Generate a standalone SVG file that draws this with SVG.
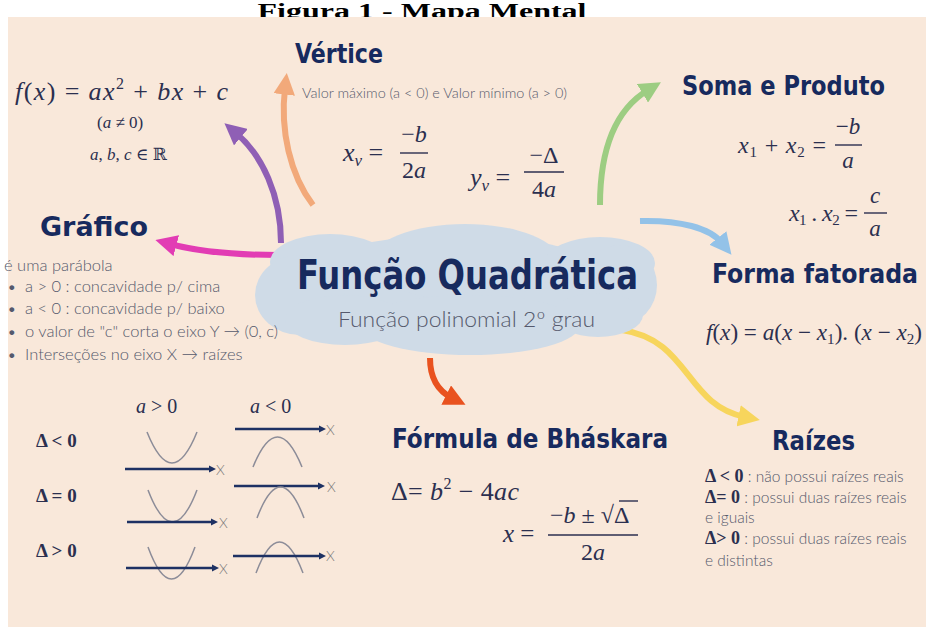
<svg xmlns="http://www.w3.org/2000/svg" width="926" height="627" viewBox="0 0 926 627">
<style>
.h{font-family:"DejaVu Sans Condensed","DejaVu Sans","Liberation Sans",sans-serif;font-weight:bold;fill:#172a5e}
.t{font-family:"Lato","Open Sans","Liberation Sans",sans-serif;font-weight:300;fill:#55596c}
.m{font-family:"Liberation Serif","DejaVu Serif",serif;font-style:italic;fill:#2b2f4f}
.r{font-style:normal}
.mb{font-family:"Liberation Serif","DejaVu Serif",serif;font-weight:bold;fill:#2b2f4f}
.bar{stroke:#2b2f4f;stroke-width:1.4}
.arr{fill:none;stroke-width:6;stroke-linecap:butt}
.axis{fill:none;stroke:#1e3163;stroke-width:2.5}
.par{fill:none;stroke:#8c8c98;stroke-width:1.5}
.xl{font-family:"Lato","Liberation Sans",sans-serif;font-weight:300;font-size:14px;fill:#777}
</style>
<defs>
<marker id="mPu" viewBox="0 0 10 10" refX="3" refY="5" markerWidth="3.6" markerHeight="3.6" orient="auto"><path d="M0,0 L10,5 L0,10 z" fill="#8f5fb5"/></marker>
<marker id="mOr" viewBox="0 0 10 10" refX="3" refY="5" markerWidth="3.6" markerHeight="3.6" orient="auto"><path d="M0,0 L10,5 L0,10 z" fill="#f2a97a"/></marker>
<marker id="mMa" viewBox="0 0 10 10" refX="3" refY="5" markerWidth="3.6" markerHeight="3.6" orient="auto"><path d="M0,0 L10,5 L0,10 z" fill="#e23cb4"/></marker>
<marker id="mGr" viewBox="0 0 10 10" refX="3" refY="5" markerWidth="3.6" markerHeight="3.6" orient="auto"><path d="M0,0 L10,5 L0,10 z" fill="#9dcd82"/></marker>
<marker id="mBl" viewBox="0 0 10 10" refX="3" refY="5" markerWidth="3.6" markerHeight="3.6" orient="auto"><path d="M0,0 L10,5 L0,10 z" fill="#93c2e8"/></marker>
<marker id="mYe" viewBox="0 0 10 10" refX="3" refY="5" markerWidth="3.6" markerHeight="3.6" orient="auto"><path d="M0,0 L10,5 L0,10 z" fill="#f7d55c"/></marker>
<marker id="mRe" viewBox="0 0 10 10" refX="3" refY="5" markerWidth="3.6" markerHeight="3.6" orient="auto"><path d="M0,0 L10,5 L0,10 z" fill="#e9521f"/></marker>
<marker id="mAx" viewBox="0 0 10 10" refX="2" refY="5" markerWidth="3" markerHeight="3" orient="auto"><path d="M0,0 L10,5 L0,10 z" fill="#1e3163"/></marker>
</defs>

<rect width="926" height="627" fill="#ffffff"/>
<text x="422" y="18" text-anchor="middle" font-family="Liberation Serif,serif" font-weight="bold" font-size="20" fill="#000" textLength="329" lengthAdjust="spacingAndGlyphs">Figura 1 - Mapa Mental</text>
<rect x="8" y="17" width="918" height="610" fill="#f9e8da"/>

<g id="connectors">
<path class="arr" stroke="#8f5fb5" marker-end="url(#mPu)" d="M281 243 C281 195 262 155 236 133"/>
<path class="arr" stroke="#f2a97a" marker-end="url(#mOr)" d="M313 205 C290 175 280 130 285 88"/>
<path class="arr" stroke="#e23cb4" marker-end="url(#mMa)" d="M278 255 C240 255 200 252 170 244"/>
<path class="arr" stroke="#9dcd82" marker-end="url(#mGr)" d="M600 205 C600 150 615 110 648 90"/>
<path class="arr" stroke="#93c2e8" marker-end="url(#mBl)" d="M640 221 C680 220 710 228 722 243"/>
<path class="arr" stroke="#f7d55c" marker-end="url(#mYe)" d="M622 330 C690 340 685 405 745 417"/>
<path class="arr" stroke="#e9521f" marker-end="url(#mRe)" d="M430 358 C430 380 440 392 452 398"/>
</g>

<g id="center">
<g fill="#cfdbe7">
<ellipse cx="455" cy="290" rx="170" ry="55"/>
<ellipse cx="465" cy="262" rx="95" ry="38"/>
<ellipse cx="330" cy="262" rx="60" ry="28"/>
<ellipse cx="600" cy="263" rx="55" ry="26"/>
<ellipse cx="300" cy="295" rx="45" ry="40"/>
<ellipse cx="620" cy="285" rx="37" ry="40"/>
<ellipse cx="470" cy="325" rx="110" ry="30"/>
<ellipse cx="345" cy="320" rx="60" ry="25"/>
<ellipse cx="598" cy="315" rx="45" ry="22"/>
</g>
<text class="h" x="297" y="289" font-size="40" textLength="341" lengthAdjust="spacingAndGlyphs">Função Quadrática</text>
<text class="t" x="338" y="327" font-size="21" fill="#3e4a6e" textLength="257" lengthAdjust="spacingAndGlyphs">Função polinomial 2º grau</text>
</g>

<g id="funcao-geral">
<text class="m" x="15" y="100" font-size="26" textLength="213" lengthAdjust="spacing">f<tspan class="r">(</tspan>x<tspan class="r">) = </tspan>ax<tspan class="r" font-size="16" dy="-11">2</tspan><tspan class="r" dy="11"> + </tspan>bx<tspan class="r"> + </tspan>c</text>
<text class="m" x="97" y="128" font-size="17"><tspan class="r">(</tspan>a<tspan class="r"> ≠ 0)</tspan></text>
<text class="m" x="90" y="160" font-size="17">a<tspan class="r">, </tspan>b<tspan class="r">, </tspan>c<tspan class="r"> ∈ ℝ</tspan></text>
</g>

<g id="vertice">
<text class="h" x="295" y="63" font-size="27" textLength="88" lengthAdjust="spacingAndGlyphs">Vértice</text>
<text class="t" x="302" y="98" font-size="14" textLength="265" lengthAdjust="spacingAndGlyphs">Valor máximo (a &lt; 0) e Valor mínimo (a &gt; 0)</text>
<text class="m" x="343" y="161" font-size="26">x<tspan font-size="17" dy="5">v</tspan><tspan class="r" dy="-5"> =</tspan></text>
<text class="m" x="414" y="142" font-size="24" text-anchor="middle"><tspan class="r">−</tspan>b</text>
<line class="bar" x1="400" y1="153" x2="428" y2="153"/>
<text class="m" x="414" y="178" font-size="24" text-anchor="middle"><tspan class="r">2</tspan>a</text>
<text class="m" x="470" y="186" font-size="26">y<tspan font-size="17" dy="5">v</tspan><tspan class="r" dy="-5"> =</tspan></text>
<text class="m r" x="544" y="163" font-size="24" text-anchor="middle">−Δ</text>
<line class="bar" x1="524" y1="172" x2="564" y2="172"/>
<text class="m" x="544" y="197" font-size="24" text-anchor="middle"><tspan class="r">4</tspan>a</text>
</g>

<g id="soma-produto">
<text class="h" x="682" y="95" font-size="27" textLength="203" lengthAdjust="spacingAndGlyphs">Soma e Produto</text>
<text class="m" x="738" y="153" font-size="24" textLength="88" lengthAdjust="spacing">x<tspan class="r" font-size="15" dy="4">1</tspan><tspan class="r" dy="-4"> + </tspan>x<tspan class="r" font-size="15" dy="4">2</tspan><tspan class="r" dy="-4"> =</tspan></text>
<text class="m" x="848" y="134" font-size="23" text-anchor="middle"><tspan class="r">−</tspan>b</text>
<line class="bar" x1="835" y1="145" x2="862" y2="145"/>
<text class="m" x="848" y="168" font-size="23" text-anchor="middle">a</text>
<text class="m" x="789" y="221" font-size="24" textLength="69" lengthAdjust="spacing">x<tspan class="r" font-size="15" dy="4">1</tspan><tspan class="r" dy="-4"> . </tspan>x<tspan class="r" font-size="15" dy="4">2</tspan><tspan class="r" dy="-4"> =</tspan></text>
<text class="m" x="875" y="203" font-size="23" text-anchor="middle">c</text>
<line class="bar" x1="864" y1="213" x2="887" y2="213"/>
<text class="m" x="875" y="236" font-size="23" text-anchor="middle">a</text>
</g>

<g id="grafico">
<text class="h" x="40" y="236" font-size="27" textLength="108" lengthAdjust="spacingAndGlyphs">Gráfico</text>
<text class="t" font-size="16.5">
<tspan x="4" y="271">é uma parábola</tspan>
<tspan x="7" y="292">•</tspan><tspan x="25" y="292">a &gt; 0 : concavidade p/ cima</tspan>
<tspan x="7" y="314">•</tspan><tspan x="25" y="314">a &lt; 0 : concavidade p/ baixo</tspan>
<tspan x="7" y="337">•</tspan><tspan x="25" y="337">o valor de "c" corta o eixo Y → (0, c)</tspan>
<tspan x="7" y="360">•</tspan><tspan x="25" y="360">Interseções no eixo X → raízes</tspan>
</text>
</g>

<g id="graficos-delta">
<text class="m" x="136" y="413" font-size="20">a<tspan class="r"> &gt; 0</tspan></text>
<text class="m" x="250" y="413" font-size="20">a<tspan class="r"> &lt; 0</tspan></text>
<text class="mb" x="36" y="447" font-size="19" font-weight="normal">Δ &lt; 0</text>
<text class="mb" x="36" y="502" font-size="19" font-weight="normal">Δ = 0</text>
<text class="mb" x="36" y="557" font-size="19" font-weight="normal">Δ &gt; 0</text>
<path class="par" d="M147 432 Q172 494 197 432"/>
<path class="axis" marker-end="url(#mAx)" d="M125 469 H210"/>
<text class="xl" x="216" y="475">X</text>
<path class="axis" marker-end="url(#mAx)" d="M235 429 H320"/>
<text class="xl" x="326" y="435">X</text>
<path class="par" d="M253 467 Q277.5 407 302 467"/>
<path class="par" d="M148 490 Q172.5 554 197 490"/>
<path class="axis" marker-end="url(#mAx)" d="M127 522 H212"/>
<text class="xl" x="219" y="528">X</text>
<path class="axis" marker-end="url(#mAx)" d="M234 486 H319"/>
<text class="xl" x="327" y="492">X</text>
<path class="par" d="M257 518 Q280.5 456 304 518"/>
<path class="par" d="M148 547 Q171.5 611 195 547"/>
<path class="axis" marker-end="url(#mAx)" d="M126 568 H213"/>
<text class="xl" x="219" y="574">X</text>
<path class="par" d="M256 573 Q279.5 511 303 573"/>
<path class="axis" marker-end="url(#mAx)" d="M233 556 H320"/>
<text class="xl" x="326" y="561">X</text>
</g>

<g id="forma-fatorada">
<text class="h" x="712" y="283" font-size="26" textLength="206" lengthAdjust="spacingAndGlyphs">Forma fatorada</text>
<text class="m" x="706" y="340" font-size="23" textLength="216" lengthAdjust="spacingAndGlyphs">f<tspan class="r">(</tspan>x<tspan class="r">) = </tspan>a<tspan class="r">(</tspan>x<tspan class="r"> − </tspan>x<tspan class="r" font-size="15" dy="4">1</tspan><tspan class="r" dy="-4">). (</tspan>x<tspan class="r"> − </tspan>x<tspan class="r" font-size="15" dy="4">2</tspan><tspan class="r" dy="-4">)</tspan></text>
</g>

<g id="bhaskara">
<text class="h" x="392" y="448" font-size="27" textLength="276" lengthAdjust="spacingAndGlyphs">Fórmula de Bháskara</text>
<text class="m" x="391" y="500" font-size="26" textLength="128" lengthAdjust="spacing"><tspan class="r">Δ= </tspan>b<tspan class="r" font-size="16" dy="-11">2</tspan><tspan class="r" dy="11"> − 4</tspan>ac</text>
<text class="m" x="503" y="542" font-size="25">x<tspan class="r"> =</tspan></text>
<text class="m" x="550" y="523" font-size="24"><tspan class="r">−</tspan>b<tspan class="r"> ± √Δ</tspan></text>
<line class="bar" x1="619" y1="501" x2="638" y2="501"/>
<line class="bar" x1="548" y1="535" x2="638" y2="535"/>
<text class="m" x="593" y="560" font-size="24" text-anchor="middle"><tspan class="r">2</tspan>a</text>
</g>

<g id="raizes">
<text class="h" x="772" y="450" font-size="27" textLength="83" lengthAdjust="spacingAndGlyphs">Raízes</text>
<text class="mb" x="705" y="482" font-size="18">Δ &lt; 0<tspan class="t" font-size="15.5" font-weight="300"> : não possui raízes reais</tspan></text>
<text class="mb" x="705" y="503" font-size="18">Δ= 0<tspan class="t" font-size="15.5" font-weight="300"> : possui duas raízes reais</tspan></text>
<text class="t" x="705" y="523" font-size="15.5">e iguais</text>
<text class="mb" x="705" y="544" font-size="18">Δ&gt; 0<tspan class="t" font-size="15.5" font-weight="300"> : possui duas raízes reais</tspan></text>
<text class="t" x="705" y="566" font-size="15.5">e distintas</text>
</g>
</svg>
